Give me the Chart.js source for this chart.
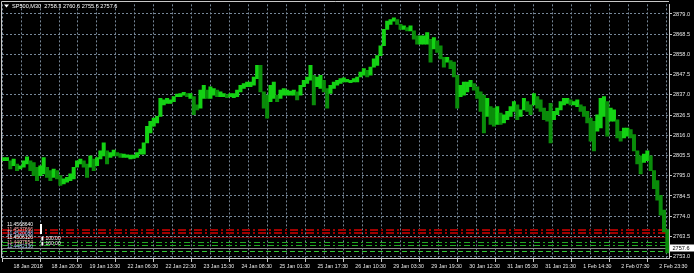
<!DOCTYPE html>
<html>
<head>
<meta charset="utf-8">
<title>SP500,M30</title>
<script src="https://cdn.jsdelivr.net/npm/chart.js"></script>
<style>
  html, body { margin: 0; padding: 0; background: #000; }
</style>
</head>
<body>
<canvas id="chart" width="694" height="273"></canvas>
<script>
const symbol = 'SP500,M30';
const ohlc = [2758.3, 2760.6, 2755.6, 2757.6];
const lastPrice = 2757.6;

const timeLabels = ['18 Jan 2018', '18 Jan 20:30', '19 Jan 13:30', '22 Jan 06:30', '22 Jan 22:30',
  '23 Jan 15:30', '24 Jan 08:30', '25 Jan 01:30', '25 Jan 17:30', '26 Jan 10:30', '29 Jan 03:30',
  '29 Jan 19:30', '30 Jan 12:30', '31 Jan 05:30', '31 Jan 21:30', '1 Feb 14:30', '2 Feb 07:30', '2 Feb 23:30'];

const yTicks = [2753.0, 2763.5, 2774.0, 2784.5, 2795.0, 2805.5, 2816.0, 2826.5, 2837.0, 2847.5, 2858.0, 2868.5, 2879.0];

// high / low of each bar
const highs = [2804.5,2804.5,2802.8,2803.7,2801.1,2800.2,2802.8,2804.8,2802.8,2801.9,
  2799.4,2800.2,2804.5,2799.4,2797.7,2798.5,2797.7,2795.1,2793.4,2794.2,
  2796.0,2799.4,2802.8,2803.7,2802.8,2801.1,2805.3,2803.7,2804.5,2807.9,
  2812.1,2807.9,2807.0,2808.3,2807.0,2806.5,2806.2,2805.9,2805.7,2805.7,
  2807.0,2808.8,2812.1,2820.7,2823.3,2824.9,2825.8,2835.2,2834.4,2835.2,
  2834.4,2836.1,2837.4,2837.7,2838.3,2837.7,2837.7,2836.1,2831.8,2839.5,
  2842.0,2839.5,2841.2,2840.3,2839.5,2838.6,2837.7,2837.2,2837.7,2837.7,
  2839.5,2842.0,2842.9,2843.7,2843.7,2846.3,2852.3,2852.3,2838.6,2836.9,
  2842.0,2843.7,2836.9,2839.5,2840.3,2839.5,2839.0,2839.5,2838.6,2842.0,
  2844.6,2846.3,2852.3,2847.2,2846.3,2847.2,2844.6,2840.3,2842.0,2843.7,
  2844.6,2845.4,2845.8,2845.1,2844.6,2845.4,2846.3,2848.9,2850.6,2849.7,
  2851.4,2855.7,2857.4,2862.5,2871.0,2875.3,2876.1,2877.0,2876.1,2873.6,
  2872.8,2871.9,2872.8,2870.2,2867.6,2867.6,2867.6,2869.3,2865.9,2866.8,
  2865.1,2862.5,2856.5,2856.5,2854.8,2854.0,2847.2,2842.0,2843.7,2843.7,
  2844.6,2842.9,2841.2,2838.6,2836.9,2835.2,2830.9,2830.1,2830.9,2827.5,
  2826.7,2828.4,2830.9,2833.5,2831.8,2829.2,2835.2,2833.5,2831.8,2837.7,
  2836.1,2834.4,2830.1,2828.4,2832.6,2828.4,2830.1,2833.5,2835.2,2835.2,
  2834.4,2833.5,2834.4,2831.8,2830.9,2828.4,2824.9,2823.3,2826.7,2835.2,
  2836.1,2833.5,2830.1,2829.2,2824.1,2818.1,2819.8,2819.8,2819.0,2816.4,
  2807.9,2805.3,2806.2,2807.9,2805.3,2797.7,2792.5,2784.9,2777.2,2767.0];

const lows = [2802.8,2802.8,2798.5,2800.2,2797.7,2798.5,2799.4,2801.1,2797.7,2795.1,
  2792.5,2795.1,2796.0,2794.2,2792.5,2794.2,2793.4,2790.0,2790.8,2791.7,
  2792.5,2793.4,2799.4,2801.1,2799.4,2794.2,2799.4,2797.7,2800.2,2803.7,
  2805.3,2801.1,2804.5,2805.3,2805.3,2804.5,2804.5,2804.5,2803.7,2804.0,
  2804.5,2806.2,2806.2,2812.1,2817.3,2820.7,2822.4,2825.8,2831.8,2832.6,
  2832.6,2833.5,2836.1,2836.1,2836.9,2836.1,2835.2,2826.7,2829.2,2830.1,
  2835.2,2835.2,2835.2,2836.9,2836.1,2836.1,2836.1,2835.5,2836.1,2835.5,
  2836.1,2838.6,2840.3,2841.2,2841.2,2842.0,2845.4,2838.6,2830.1,2824.9,
  2833.5,2835.2,2833.5,2835.2,2836.9,2836.9,2836.9,2836.9,2834.4,2836.9,
  2841.2,2842.9,2844.6,2831.8,2841.2,2840.3,2838.6,2830.1,2837.7,2840.3,
  2842.0,2842.9,2843.7,2843.7,2843.4,2843.7,2843.7,2846.3,2847.2,2846.3,
  2847.2,2851.4,2852.3,2857.4,2862.5,2871.0,2873.6,2875.3,2873.6,2871.0,
  2871.0,2870.2,2870.2,2865.9,2863.3,2863.3,2863.3,2863.3,2854.0,2860.8,
  2859.1,2855.7,2851.4,2854.0,2850.6,2846.3,2830.1,2836.1,2836.9,2838.6,
  2841.2,2839.5,2835.2,2828.4,2817.3,2825.8,2821.6,2820.7,2821.6,2821.6,
  2822.4,2824.1,2825.8,2828.4,2824.1,2825.8,2829.2,2828.4,2826.7,2831.8,
  2830.1,2828.4,2824.1,2823.3,2812.1,2824.1,2826.7,2829.2,2831.8,2832.6,
  2831.8,2831.8,2830.9,2828.4,2825.8,2822.4,2813.0,2807.9,2818.1,2819.8,
  2825.8,2815.6,2823.3,2823.3,2814.7,2813.0,2814.7,2815.6,2814.7,2807.9,
  2801.1,2796.0,2801.9,2802.8,2797.7,2788.3,2782.3,2774.6,2765.9,2755.0];

// horizontal price levels (objects on the chart)
const levels = [2767.0, 2765.3, 2763.2, 2760.4, 2758.9, 2757.6, 2755.8];
const levelStyles = [
  { color: '#a00000', width: 2, dash: [8, 3, 2, 3] },
  { color: '#a00000', width: 2, dash: [8, 3, 2, 3] },
  { color: '#780000', width: 1, dash: [] },
  { color: '#22a822', width: 1, dash: [6, 3, 2, 3] },
  { color: '#22a822', width: 1, dash: [6, 3, 2, 3] },
  { color: '#8a8a8a', width: 1, dash: [] },
  { color: '#32c832', width: 1, dash: [5, 3] }
];

const noteTexts = ['11.4568640', '11.4537666', '11.4520088', '11.4506120', '11.4497554', '11.4482130'];
const noteValues = ['100.00', '100.00'];

const gridColor = '#778899';
const axisColor = '#c8c8c8';
const textColor = '#e8e8e8';
const fontFamily = '"Liberation Sans", Arial, sans-serif';

const overlay = {
  id: 'overlay',
  beforeDatasetsDraw(chart) {
    const { ctx, chartArea: a, scales: { y } } = chart;
    ctx.save();
    ctx.beginPath();
    ctx.rect(a.left, a.top, a.right - a.left, a.bottom - a.top);
    ctx.clip();
    levels.forEach((v, i) => {
      const s = levelStyles[i];
      const py = Math.round(y.getPixelForValue(v)) + (s.width === 1 ? 0.5 : 0);
      ctx.strokeStyle = s.color;
      ctx.lineWidth = s.width;
      ctx.setLineDash(s.dash);
      ctx.beginPath();
      ctx.moveTo(a.left, py);
      ctx.lineTo(a.right, py);
      ctx.stroke();
    });
    ctx.restore();
  },
  afterDraw(chart) {
    const { ctx, chartArea: a, scales: { y } } = chart;
    ctx.save();
    // window frame
    ctx.strokeStyle = axisColor;
    ctx.lineWidth = 1;
    ctx.beginPath();
    ctx.moveTo(1.5, a.bottom);
    ctx.lineTo(1.5, 1.5);
    ctx.lineTo(a.right, 1.5);
    ctx.stroke();

    // title
    ctx.fillStyle = '#ffffff';
    ctx.beginPath();
    ctx.moveTo(4, 4.5);
    ctx.lineTo(9, 4.5);
    ctx.lineTo(6.5, 7.5);
    ctx.closePath();
    ctx.fill();
    ctx.font = '5.6px ' + fontFamily;
    ctx.textBaseline = 'middle';
    ctx.fillText(symbol + '  ' + ohlc.map(v => v.toFixed(1)).join(' '), 12, 6.5);

    // text objects in the lower left corner
    ctx.font = '5px ' + fontFamily;
    noteTexts.forEach((t, i) => {
      ctx.fillStyle = i % 3 === 1 ? '#ffb0b0' : (i % 3 === 2 ? '#b0c8ff' : '#ffffff');
      ctx.fillText(t, 7, 225 + i * 4.3);
    });
    ctx.fillStyle = '#ffffff';
    ctx.fillRect(40, 224, 2, 10);
    noteValues.forEach((t, i) => {
      ctx.fillStyle = '#ffffff';
      ctx.fillText('\u25ae ' + t, 41, 239 + i * 5);
    });

    // current price label
    const py = Math.round(y.getPixelForValue(lastPrice));
    ctx.fillStyle = '#ffffff';
    ctx.fillRect(670, py - 3.5, 24, 7);
    ctx.fillStyle = '#000000';
    ctx.font = '5.6px ' + fontFamily;
    ctx.fillText(lastPrice.toFixed(1), 672.5, py + 0.2);
    ctx.restore();
  }
};

const bright = '#14d214';
const dark = '#0a8c0a';

new Chart(document.getElementById('chart'), {
  type: 'bar',
  data: {
    labels: highs.map((_, i) => i),
    datasets: [{
      data: highs.map((h, i) => [lows[i], h]),
      backgroundColor: c => {
        const i = c.dataIndex;
        if (i === 0) return bright;
        return highs[i] + lows[i] >= highs[i - 1] + lows[i - 1] - 1 ? bright : dark;
      },
      borderWidth: 0,
      barPercentage: 1,
      categoryPercentage: 1,
      xAxisID: 'x',
      yAxisID: 'y'
    }]
  },
  options: {
    responsive: false,
    animation: false,
    events: [],
    layout: { padding: { left: 2, top: 2, right: 0, bottom: 0 } },
    plugins: { legend: { display: false }, tooltip: { enabled: false } },
    scales: {
      x: { type: 'category', display: false, offset: true },
      xt: {
        type: 'linear',
        position: 'bottom',
        min: 0,
        max: 34.118,
        afterBuildTicks: s => {
          s.ticks = [];
          for (let m = 0; m <= 34; m++) s.ticks.push({ value: m });
        },
        afterFit: s => { s.height = 15; s.paddingLeft = 0; s.paddingRight = 0; },
        grid: {
          color: gridColor,
          lineWidth: 1,
          tickLength: 4,
          tickColor: c => (c.index % 2 === 0 ? axisColor : 'rgba(0,0,0,0)')
        },
        border: { color: axisColor, dash: [2, 2] },
        ticks: {
          color: textColor,
          font: { family: fontFamily, size: 5.3 },
          align: 'start',
          labelOffset: 2,
          padding: 1,
          autoSkip: false,
          maxRotation: 0,
          callback: (v, idx) => (idx % 2 === 0 ? timeLabels[idx / 2] : '')
        }
      },
      y: {
        position: 'right',
        min: 2752.3,
        max: 2884.0,
        afterBuildTicks: s => { s.ticks = yTicks.map(v => ({ value: v })); },
        afterFit: s => { s.width = 25; },
        grid: { color: gridColor, lineWidth: 1, tickLength: 3, tickColor: axisColor },
        border: { color: axisColor, dash: [2, 2] },
        ticks: {
          color: textColor,
          font: { family: fontFamily, size: 5.6 },
          padding: 1,
          callback: v => Number(v).toFixed(1)
        }
      }
    }
  },
  plugins: [overlay]
});
</script>
</body>
</html>
